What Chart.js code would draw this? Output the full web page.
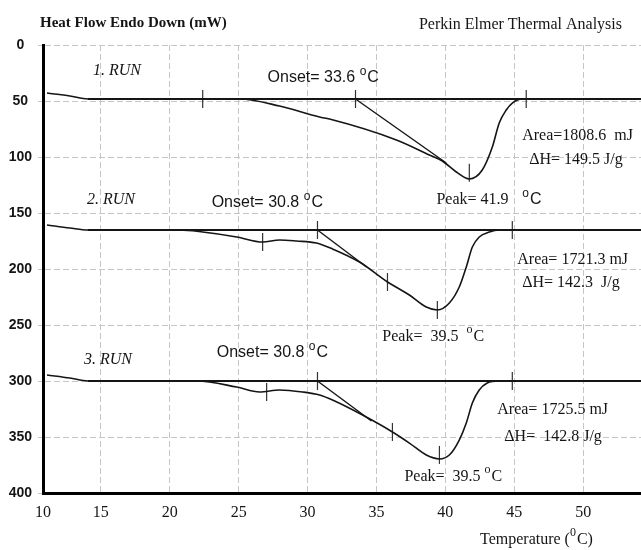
<!DOCTYPE html>
<html lang="en">
<head>
<meta charset="utf-8">
<title>Heat Flow Endo Down (mW)</title>
<script src="https://cdn.jsdelivr.net/npm/chart.js@4"></script>
<style>
  html, body { margin: 0; padding: 0; background: #fff; }
  canvas { display: block; }
</style>
</head>
<body>
<canvas id="dsc" width="641" height="550"></canvas>
<script>
// ---------------- values ----------------
const X_TICKS = [10, 15, 20, 25, 30, 35, 40, 45, 50];
const Y_TICKS = [0, 50, 100, 150, 200, 250, 300, 350, 400];
const X_MIN = 10.8;   // printed axis starts a bit right of 10
const X_MAX = 54.2;

// run 1 (temperature °C, heat flow mW)
const RUN1_T = [11.09, 12.75, 14.06, 19.28, 25.07, 27.97, 30.87, 31.59, 36.45, 38.84, 39.78, 40.80, 41.74, 42.68, 43.41, 43.91, 44.42, 44.86, 45.58, 54.13];
const RUN1_H = [42.9, 45.5, 48.2, 48.2, 48.2, 54.5, 64.3, 66.1, 84.8, 98.2, 103.6, 113.4, 119.6, 111.6, 91.1, 69.6, 58.0, 51.8, 48.2, 48.2];
// run 2
const RUN2_T = [11.09, 12.75, 14.06, 20.72, 22.39, 24.86, 26.74, 27.97, 29.20, 30.65, 31.81, 33.77, 35.80, 37.39, 38.62, 39.42, 40.29, 41.01, 41.52, 41.96, 42.46, 43.19, 43.91, 54.13];
const RUN2_H = [160.7, 163.4, 165.2, 165.2, 167.0, 171.4, 175.9, 174.1, 175.0, 176.8, 182.1, 193.8, 211.6, 223.2, 233.9, 236.6, 230.4, 216.1, 198.2, 180.4, 171.4, 167.0, 165.2, 165.2];
// run 3
const RUN3_T = [11.09, 12.75, 14.06, 21.96, 24.86, 26.52, 27.97, 29.64, 30.87, 31.81, 33.99, 36.16, 37.39, 38.62, 39.57, 40.29, 41.01, 41.52, 41.96, 42.46, 43.04, 43.91, 54.13];
const RUN3_H = [294.6, 297.3, 300.0, 300.0, 305.4, 309.8, 308.0, 309.8, 312.5, 317.0, 330.4, 345.5, 355.4, 366.1, 369.6, 366.1, 352.7, 337.5, 319.6, 308.0, 301.8, 300.0, 300.0];

// baselines
const BASE_T = [14.06, 54.2];
const BASE_H = [48.2, 165.2, 300.0];

// onset tangents [start, end]
const TAN1_T = [33.48, 40.07], TAN1_H = [48.2, 105.4];
const TAN2_T = [30.72, 34.28], TAN2_H = [165.2, 198.2];
const TAN3_T = [30.72, 34.64], TAN3_H = [300.0, 335.7];

// little vertical integration marks
const MARK1_T = [22.39, 33.48, 41.74, 45.87], MARK1_H = [48.2, 48.2, 114.0, 48.2];
const MARK2_T = [26.74, 30.72, 35.80, 39.42, 44.86], MARK2_H = [175.9, 165.2, 211.6, 236.6, 165.2];
const MARK3_T = [27.03, 30.72, 36.16, 39.57, 44.86], MARK3_H = [309.8, 300.0, 345.5, 366.0, 300.0];

// annotations: anchor (temperature, heat flow) = left / middle of text, "^x" = superscript x
const SERIF = '"Liberation Serif", "Times New Roman", serif';
const SANS = '"Liberation Sans", Arial, sans-serif';
const NOTES = [
	{ t: 14.42, h: 23.2, text: '1. RUN', font: 'italic 16px ' + SERIF },
	{ t: 27.10, h: 29.5, text: 'Onset= 33.6 ^oC', font: '16px ' + SANS },
	{ t: 45.58, h: 81.25, text: 'Area=1808.6  mJ', font: '16px ' + SERIF },
	{ t: 46.09, h: 102.7, text: '\u0394H= 149.5 J/g', font: '16px ' + SERIF },
	{ t: 39.35, h: 138.4, text: 'Peak= 41.9', font: '16px ' + SERIF },
	{ t: 45.58, h: 138.4, text: '^oC', font: '16px ' + SANS },

	{ t: 13.99, h: 138.4, text: '2. RUN', font: 'italic 16px ' + SERIF },
	{ t: 23.04, h: 141.1, text: 'Onset= 30.8 ^oC', font: '16px ' + SANS },
	{ t: 45.22, h: 192.0, text: 'Area= 1721.3 mJ', font: '16px ' + SERIF },
	{ t: 45.58, h: 212.5, text: '\u0394H= 142.3  J/g', font: '16px ' + SERIF },
	{ t: 35.43, h: 260.7, text: 'Peak=  39.5  ^oC', font: '16px ' + SERIF },

	{ t: 13.77, h: 281.25, text: '3. RUN', font: 'italic 16px ' + SERIF },
	{ t: 23.41, h: 275.0, text: 'Onset= 30.8 ^oC', font: '16px ' + SANS },
	{ t: 43.77, h: 325.9, text: 'Area= 1725.5 mJ', font: '16px ' + SERIF },
	{ t: 44.28, h: 350.0, text: '\u0394H=  142.8 J/g', font: '16px ' + SERIF },
	{ t: 37.03, h: 385.7, text: 'Peak=  39.5 ^oC', font: '16px ' + SERIF },
];
// ---------------------------------------------------------------

const pts = (xs, ys) => xs.map((x, i) => ({ x, y: ys[i] }));
const INK = '#151515';

// draw text, "^x" turns x into a raised small glyph
function drawRich(ctx, x, y, text, font) {
	const size = parseFloat(font.match(/(\d+(\.\d+)?)px/)[1]);
	const small = font.replace(/(\d+(\.\d+)?)px/, Math.round(size * 0.78) + 'px');
	const parts = text.split('^');
	ctx.font = font;
	ctx.fillText(parts[0], x, y);
	x += ctx.measureText(parts[0]).width;
	for (let i = 1; i < parts.length; i++) {
		const sup = parts[i][0];
		const rest = parts[i].slice(1);
		ctx.font = small;
		ctx.fillText(sup, x, y - size * 0.42);
		x += ctx.measureText(sup).width + 1;
		ctx.font = font;
		ctx.fillText(rest, x, y);
		x += ctx.measureText(rest).width;
	}
}

const textPlugin = {
	id: 'dscText',
	afterDraw(chart) {
		const { ctx, scales: { x, y } } = chart;
		ctx.save();
		ctx.fillStyle = INK;
		ctx.textBaseline = 'middle';
		ctx.textAlign = 'left';
		for (const n of NOTES) {
			drawRich(ctx, x.getPixelForValue(n.t), y.getPixelForValue(n.h), n.text, n.font);
		}
		// headers and axis title
		drawRich(ctx, 40, 23, 'Heat Flow Endo Down (mW)', 'bold 15px ' + SERIF);
		ctx.textAlign = 'right';
		drawRich(ctx, 622, 25, 'Perkin Elmer Thermal Analysis', '16px ' + SERIF);
		ctx.textAlign = 'left';
		drawRich(ctx, 480, 540, 'Temperature (^0C)', '16px ' + SERIF);
		ctx.restore();
	},
};

const curve = (xs, ys) => ({
	type: 'line', data: pts(xs, ys), borderColor: INK, borderWidth: 1.6,
	pointRadius: 0, cubicInterpolationMode: 'monotone', fill: false,
});
const straight = (xs, ys, w) => ({
	type: 'line', data: pts(xs, ys), borderColor: INK, borderWidth: w,
	pointRadius: 0, tension: 0, fill: false,
});
const marks = (xs, ys) => ({
	type: 'scatter', data: pts(xs, ys), pointStyle: 'line', pointRotation: 90,
	pointRadius: 9, pointBorderWidth: 1.2, borderColor: '#333', backgroundColor: '#333',
});

const datasets = [
	...BASE_H.map((h) => straight(BASE_T, [h, h], 2.2)),
	straight(TAN1_T, TAN1_H, 1.4),
	straight(TAN2_T, TAN2_H, 1.4),
	straight(TAN3_T, TAN3_H, 1.4),
	curve(RUN1_T, RUN1_H),
	curve(RUN2_T, RUN2_H),
	curve(RUN3_T, RUN3_H),
	marks(MARK1_T, MARK1_H),
	marks(MARK2_T, MARK2_H),
	marks(MARK3_T, MARK3_H),
];

new Chart(document.getElementById('dsc'), {
	type: 'line',
	data: { datasets },
	plugins: [textPlugin],
	options: {
		responsive: false,
		animation: false,
		layout: { autoPadding: false, padding: { top: 45, left: 0, right: 0, bottom: 0 } },
		plugins: { legend: { display: false }, tooltip: { enabled: false } },
		scales: {
			x: {
				type: 'linear', min: X_MIN, max: X_MAX,
				afterBuildTicks: (s) => { s.ticks = X_TICKS.map((v) => ({ value: Math.max(v, X_MIN) })); },
				afterFit: (s) => { s.height = 57; },
				ticks: {
					autoSkip: false, maxRotation: 0, padding: 10, color: INK,
					font: { family: SERIF, size: 16 },
					callback: (v, i) => String(X_TICKS[i]),
				},
				grid: { color: '#c6c6c6', lineWidth: 1, drawTicks: false },
				border: { display: true, color: '#000', width: 3, dash: [6, 3] },
			},
			y: {
				type: 'linear', reverse: true, min: 0, max: 400,
				afterBuildTicks: (s) => { s.ticks = Y_TICKS.map((v) => ({ value: v })); },
				afterFit: (s) => { s.width = 43; },
				ticks: {
					padding: 6, crossAlign: 'center', color: INK,
					font: { family: SANS, size: 14, weight: 'bold' },
				},
				grid: { color: '#c6c6c6', lineWidth: 1, tickLength: 5 },
				border: { display: true, color: '#000', width: 3, dash: [6, 3] },
			},
		},
	},
});
</script>
</body>
</html>
